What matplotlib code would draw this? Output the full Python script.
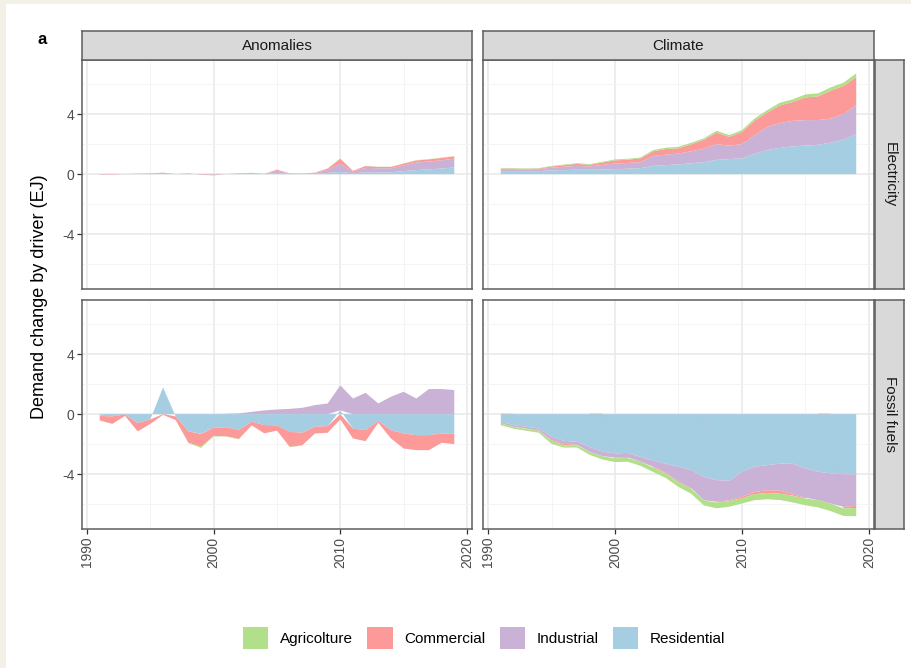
import numpy as np
import matplotlib
matplotlib.use("Agg")
import matplotlib.pyplot as plt
from matplotlib.patches import Patch, Rectangle

plt.rcParams["font.family"] = ["Liberation Sans", "DejaVu Sans"]
plt.rcParams["axes.unicode_minus"] = False

# Years on the x axis
years = list(range(1991, 2020))

# Drivers, in stacking order (closest to zero first) and their fill colours
stack_order = ["Residential", "Industrial", "Commercial", "Agricolture"]
legend_order = ["Agricolture", "Commercial", "Industrial", "Residential"]
colors = {
    "Agricolture": "#b2df8a",
    "Commercial": "#fb9a99",
    "Industrial": "#cab2d6",
    "Residential": "#a6cee3",
}

col_labels = ["Anomalies", "Climate"]
row_labels = ["Electricity", "Fossil fuels"]

# Anomalies - Electricity (EJ)
anom_elec_res = [-0.01, -0.01, 0.0, 0.01, 0.01, 0.02, 0.0, 0.01, -0.01, -0.02, 0.0, 0.01, 0.02, 0.01, 0.07,
                 0.01, 0.01, 0.03, 0.08, 0.15, 0.05, 0.12, 0.12, 0.12, 0.2, 0.27, 0.32, 0.37, 0.45]
anom_elec_ind = [-0.01, -0.01, 0.0, 0.01, 0.02, 0.03, 0.0, 0.02, -0.02, -0.03, 0.0, 0.03, 0.04, 0.01, 0.15,
                 0.03, 0.02, 0.05, 0.2, 0.55, 0.12, 0.3, 0.27, 0.27, 0.38, 0.5, 0.52, 0.55, 0.58]
anom_elec_com = [-0.02, -0.02, 0.0, 0.01, 0.02, 0.05, 0.0, 0.02, -0.02, -0.03, 0.0, 0.01, 0.02, 0.0, 0.08,
                 0.01, 0.01, 0.02, 0.09, 0.32, 0.05, 0.12, 0.09, 0.09, 0.12, 0.14, 0.14, 0.16, 0.15]
anom_elec_agr = [0.0, 0.0, 0.0, 0.0, 0.0, 0.0, 0.0, 0.0, 0.0, 0.0, 0.0, 0.0, 0.01, 0.0, 0.0,
                 0.0, 0.0, 0.0, 0.01, 0.02, 0.0, 0.01, 0.01, 0.01, 0.01, 0.02, 0.02, 0.02, 0.02]

# Anomalies - Fossil fuels (EJ)
anom_foss_res = [-0.1, -0.15, -0.02, -0.6, -0.35, 1.78, -0.15, -1.15, -1.3, -0.9, -0.88, -1.05, -0.5, -0.73, -0.75,
                 -1.18, -1.24, -0.84, -0.8, 0.25, -0.96, -1.07, -0.45, -1.07, -1.29, -1.4, -1.4, -1.29, -1.29]
anom_foss_ind = [-0.02, 0.0, 0.01, 0.0, 0.0, 0.0, 0.0, 0.0, -0.02, 0.0, 0.02, 0.05, 0.15, 0.25, 0.31,
                 0.35, 0.42, 0.6, 0.71, 1.65, 1.04, 1.42, 0.71, 1.16, 1.49, 1.04, 1.67, 1.67, 1.6]
anom_foss_com = [-0.3, -0.5, -0.1, -0.55, -0.3, -0.05, -0.25, -0.75, -0.85, -0.55, -0.6, -0.6, -0.25, -0.55, -0.35,
                 -1.0, -0.83, -0.45, -0.44, -0.35, -0.66, -0.73, -0.13, -0.55, -1.0, -1.0, -1.0, -0.62, -0.71]
anom_foss_agr = [0.0, 0.0, 0.0, 0.0, 0.0, 0.0, 0.0, -0.03, -0.08, -0.03, -0.02, -0.03, 0.0, 0.0, 0.0,
                 -0.02, -0.02, 0.0, 0.0, 0.03, 0.0, 0.0, 0.0, 0.0, 0.0, 0.0, 0.0, 0.0, 0.0]

# Climate - Electricity (EJ)
clim_elec_res = [0.2, 0.2, 0.2, 0.2, 0.25, 0.27, 0.3, 0.29, 0.31, 0.33, 0.36, 0.4, 0.55, 0.6, 0.65,
                 0.72, 0.8, 0.95, 1.0, 1.05, 1.35, 1.6, 1.75, 1.85, 1.9, 1.95, 2.1, 2.3, 2.65]
clim_elec_ind = [0.13, 0.13, 0.12, 0.13, 0.18, 0.22, 0.25, 0.22, 0.3, 0.38, 0.38, 0.4, 0.65, 0.7, 0.72,
                 0.8, 0.9, 1.05, 0.9, 0.95, 1.25, 1.55, 1.65, 1.7, 1.7, 1.65, 1.6, 1.7, 1.95]
clim_elec_com = [0.04, 0.04, 0.03, 0.04, 0.08, 0.11, 0.13, 0.11, 0.16, 0.21, 0.22, 0.25, 0.32, 0.37, 0.35,
                 0.47, 0.58, 0.77, 0.58, 0.81, 0.97, 0.96, 1.18, 1.25, 1.51, 1.58, 1.86, 1.87, 1.86]
clim_elec_agr = [0.03, 0.03, 0.03, 0.03, 0.04, 0.04, 0.05, 0.05, 0.05, 0.06, 0.06, 0.06, 0.08, 0.09, 0.1,
                 0.1, 0.1, 0.12, 0.12, 0.12, 0.14, 0.16, 0.18, 0.18, 0.2, 0.2, 0.22, 0.22, 0.25]

# Climate - Fossil fuels (EJ)
clim_foss_res = [-0.5, -0.73, -0.84, -0.96, -1.5, -1.78, -1.84, -2.18, -2.5, -2.62, -2.58, -2.84, -3.1, -3.3, -3.5,
                 -3.73, -4.18, -4.4, -4.44, -3.84, -3.5, -3.4, -3.3, -3.3, -3.62, -3.84, -3.95, -4.0, -4.0]
clim_foss_ind = [-0.12, -0.12, -0.12, -0.13, -0.23, -0.2, -0.2, -0.33, -0.3, -0.27, -0.3, -0.33, -0.4, -0.6, -1.0,
                 -1.2, -1.55, -1.44, -1.3, -1.66, -1.68, -1.67, -1.8, -2.03, -1.95, -1.89, -2.01, -2.18, -2.1]
clim_foss_com = [0.03, 0.02, -0.03, -0.03, -0.05, -0.1, -0.03, 0.03, 0.03, -0.05, -0.04, 0.03, -0.05, -0.05, -0.05,
                 -0.05, 0.05, -0.05, -0.05, -0.1, -0.15, -0.18, -0.2, -0.1, -0.05, 0.03, 0.03, -0.1, -0.15]
clim_foss_agr = [-0.12, -0.12, -0.12, -0.12, -0.2, -0.15, -0.15, -0.2, -0.22, -0.25, -0.25, -0.27, -0.3, -0.3, -0.3,
                 -0.32, -0.35, -0.38, -0.38, -0.35, -0.4, -0.42, -0.42, -0.45, -0.45, -0.48, -0.5, -0.5, -0.55]

panels = {
    (0, 0): {"Residential": anom_elec_res, "Industrial": anom_elec_ind,
             "Commercial": anom_elec_com, "Agricolture": anom_elec_agr},
    (1, 0): {"Residential": anom_foss_res, "Industrial": anom_foss_ind,
             "Commercial": anom_foss_com, "Agricolture": anom_foss_agr},
    (0, 1): {"Residential": clim_elec_res, "Industrial": clim_elec_ind,
             "Commercial": clim_elec_com, "Agricolture": clim_elec_agr},
    (1, 1): {"Residential": clim_foss_res, "Industrial": clim_foss_ind,
             "Commercial": clim_foss_com, "Agricolture": clim_foss_agr},
}

W, H = 911, 668
BORDER = "#5e5e5e"


def px(x0, y0, x1, y1):
    # pixel box (top-left origin) -> figure fraction rect
    return [x0 / W, 1 - y1 / H, (x1 - x0) / W, (y1 - y0) / H]


fig = plt.figure(figsize=(W / 100, H / 100), dpi=100)
fig.patch.set_facecolor("#f3f0e8")
fig.add_artist(Rectangle((6 / W, 0), 1 - 6 / W, 1 - 4 / H, transform=fig.transFigure,
                         facecolor="white", edgecolor="none", zorder=-1))

col_x = [(82, 472), (483, 874)]
row_y = [(60, 289), (300, 529)]

for (r, c), series in panels.items():
    x0, x1 = col_x[c]
    y0, y1 = row_y[r]
    ax = fig.add_axes(px(x0, y0, x1, y1))

    # stack positives upward and negatives downward, as ggplot's position_stack does
    pos = np.zeros(len(years))
    neg = np.zeros(len(years))
    for name in stack_order:
        v = np.array(series[name], dtype=float)
        base = np.where(v >= 0, pos, neg)
        top = base + v
        ax.fill_between(years, base, top, facecolor=colors[name], edgecolor="none",
                        linewidth=0, zorder=2)
        pos = np.where(v >= 0, top, pos)
        neg = np.where(v < 0, top, neg)

    ax.set_xlim(1989.6, 2020.4)
    ax.set_ylim(-7.65, 7.6)
    ax.set_xticks([1990, 2000, 2010, 2020])
    ax.set_xticks([1995, 2005, 2015], minor=True)
    ax.set_yticks([-4, 0, 4])
    ax.set_yticks([-6, -2, 2, 6], minor=True)
    ax.grid(which="major", color="#e8e8e8", linewidth=1.1, zorder=0)
    ax.grid(which="minor", color="#f3f3f3", linewidth=0.6, zorder=0)
    ax.set_axisbelow(True)
    for s in ax.spines.values():
        s.set_color(BORDER)
        s.set_linewidth(1.1)
    ax.tick_params(which="minor", length=0)
    ax.tick_params(which="major", direction="out", length=3.5, width=0.9, color="#333333",
                   labelsize=10, labelcolor="#4d4d4d", pad=2)
    if r == 0:
        ax.tick_params(axis="x", length=0, labelbottom=False)
    else:
        ax.tick_params(axis="x", labelrotation=90)
    if c == 1:
        ax.tick_params(axis="y", length=0, labelleft=False)

    # column strip on top
    if r == 0:
        sx = fig.add_axes(px(x0, 31, x1, y0))
        sx.set_facecolor("#d9d9d9")
        sx.set_xticks([])
        sx.set_yticks([])
        for s in sx.spines.values():
            s.set_color(BORDER)
            s.set_linewidth(1.1)
        sx.text(0.5, 0.5, col_labels[c], ha="center", va="center", fontsize=11, color="#1a1a1a",
                transform=sx.transAxes)
    # row strip on the right
    if c == 1:
        sy = fig.add_axes(px(875, y0, 904, y1))
        sy.set_facecolor("#d9d9d9")
        sy.set_xticks([])
        sy.set_yticks([])
        for s in sy.spines.values():
            s.set_color(BORDER)
            s.set_linewidth(1.1)
        sy.text(0.5, 0.5, row_labels[r], ha="center", va="center", fontsize=11, color="#1a1a1a",
                rotation=-90, transform=sy.transAxes)

fig.text(40 / W, 1 - 297 / H, "Demand change by driver (EJ)", rotation=90, ha="center",
         va="center", fontsize=13, color="black")
fig.text(42 / W, 1 - 40 / H, "a", ha="center", va="center", fontsize=12, fontweight="bold")

handles = [Patch(facecolor=colors[n], edgecolor="none") for n in legend_order]
fig.legend(handles, legend_order, loc="center", bbox_to_anchor=(484 / W, 1 - 638 / H),
           ncol=4, frameon=False, fontsize=11, handlelength=1.65, handleheight=1.75,
           handletextpad=0.75, columnspacing=0.95)

fig.savefig("out.png", dpi=100, facecolor=fig.get_facecolor())
plt.close(fig)
